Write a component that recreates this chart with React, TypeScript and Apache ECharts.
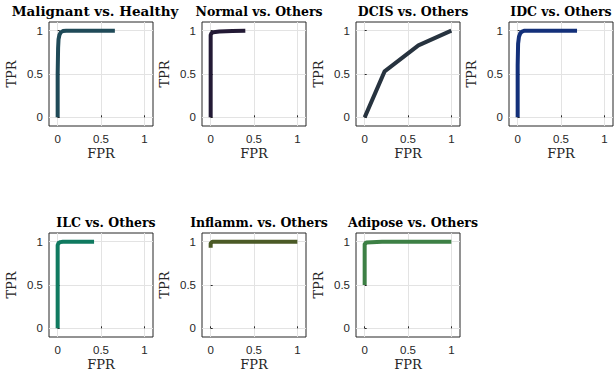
import React, { useEffect, useRef } from "react";
import * as echarts from "echarts";

const titles = [
  "Malignant vs. Healthy",
  "Normal vs. Others",
  "DCIS vs. Others",
  "IDC vs. Others",
  "ILC vs. Others",
  "Inflamm. vs. Others",
  "Adipose vs. Others",
];

const colors = ["#1f4a58", "#231a35", "#27333f", "#13307a", "#0f7a60", "#4b5a26", "#3d8045"];

const malignant = [[0, 0], [0, 0.5], [0.005, 0.8], [0.01, 0.9], [0.02, 0.95], [0.035, 0.98], [0.06, 0.995], [0.1, 1], [0.66, 1]];
const normal = [[0, 0], [0, 0.95], [0.01, 0.972], [0.03, 0.982], [0.1, 0.99], [0.25, 0.996], [0.4, 1]];
const dcis = [[0, 0], [0.23, 0.53], [0.62, 0.83], [1, 1]];
const idc = [[0, 0], [0, 0.6], [0.005, 0.85], [0.015, 0.93], [0.03, 0.97], [0.05, 0.99], [0.08, 1], [0.685, 1]];
const ilc = [[0, 0], [0, 0.96], [0.01, 0.985], [0.03, 0.995], [0.06, 1], [0.42, 1]];
const inflamm = [[0, 0.93], [0, 0.98], [0.02, 1], [1, 1]];
const adipose = [[0, 0.5], [0, 0.97], [0.02, 0.99], [0.2, 1], [1, 1]];

const seriesData = [malignant, normal, dcis, idc, ilc, inflamm, adipose];
const tickValues = [0, 0.5, 1];

const colLefts = [49, 202, 356, 509];
const rowTops = [22, 233];
const boxSize = 104;

export default function App() {
  const ref = useRef<HTMLDivElement>(null);
  useEffect(() => {
    document.body.style.margin = "0";
    const chart = echarts.init(ref.current!, null, { renderer: "svg" });
    const grids: any[] = [];
    const xAxes: any[] = [];
    const yAxes: any[] = [];
    const series: any[] = [];
    const title: any[] = [];
    const axisCommon = {
      type: "value",
      min: -0.1,
      max: 1.1,
      axisLine: { show: false },
      axisTick: { show: true, inside: true, length: 2, customValues: tickValues, lineStyle: { color: "#262626", width: 1 } },
      axisLabel: {
        customValues: tickValues,
        color: "#262626",
        fontFamily: "Liberation Sans",
        fontSize: 11.5,
        formatter: (v: number) => String(v),
      },
      splitLine: { show: true, lineStyle: { color: "#e3e3e3", width: 1 } },
      nameTextStyle: { fontFamily: "DejaVu Serif", fontSize: 13, color: "#262626" },
    };
    seriesData.forEach((d, i) => {
      const row = i < 4 ? 0 : 1;
      const col = i < 4 ? i : i - 4;
      const left = colLefts[col];
      const top = rowTops[row];
      grids.push({
        left,
        top,
        width: boxSize,
        height: boxSize,
        show: true,
        borderColor: "#262626",
        borderWidth: 1,
        backgroundColor: "transparent",
      });
      xAxes.push({
        ...axisCommon,
        gridIndex: i,
        name: "FPR",
        nameLocation: "middle",
        nameGap: 21,
        axisLabel: { ...axisCommon.axisLabel, margin: 7 },
      });
      yAxes.push({
        ...axisCommon,
        gridIndex: i,
        name: "TPR",
        nameLocation: "middle",
        nameGap: 31,
        axisLabel: { ...axisCommon.axisLabel, margin: 6 },
      });
      series.push({
        type: "line",
        xAxisIndex: i,
        yAxisIndex: i,
        data: d,
        showSymbol: false,
        symbol: "none",
        lineStyle: { color: colors[i], width: 4, join: "round", cap: "butt" },
        z: 3,
      });
      const first = i === 0;
      let cx = left + boxSize / 2;
      if (first) cx = 90;
      if (i === 3) cx = 556;
      title.push({
        text: titles[i],
        left: cx,
        top: first ? top - 23 : top - 22,
        textAlign: "center",
        textStyle: { fontFamily: "DejaVu Serif", fontWeight: "bold", fontSize: first ? 13.5 : 12.5, color: "#000" },
      });
    });
    chart.setOption({
      animation: false,
      backgroundColor: "#fff",
      title,
      grid: grids,
      xAxis: xAxes,
      yAxis: yAxes,
      series,
    });
    return () => chart.dispose();
  }, []);
  return <div ref={ref} style={{ width: 614, height: 374 }} />;
}
